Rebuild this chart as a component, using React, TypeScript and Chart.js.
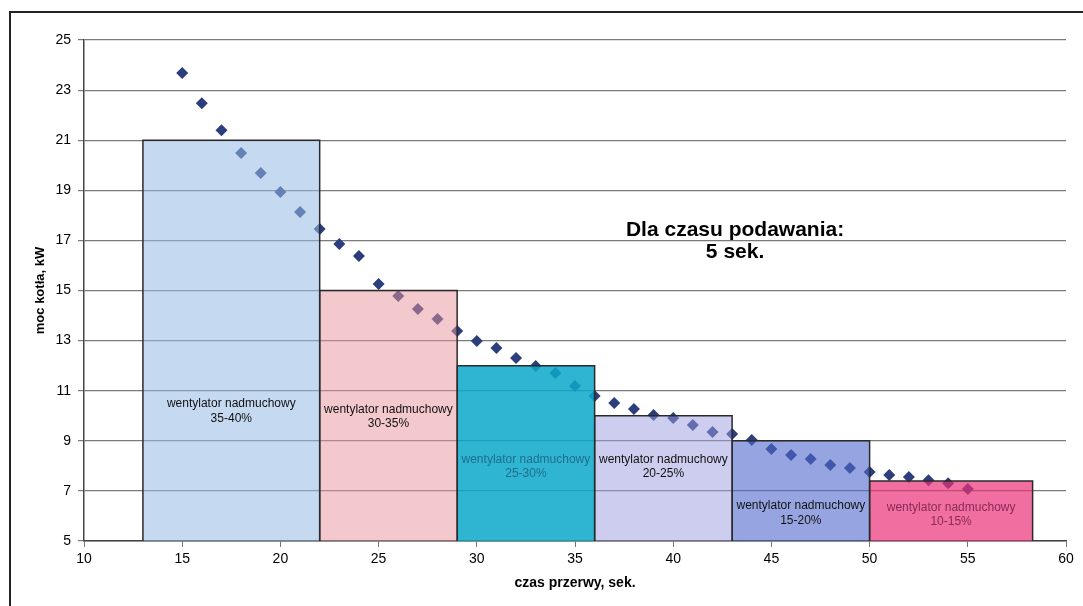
import React, { useEffect, useRef } from 'react';
import { Chart, registerables } from 'chart.js';

Chart.register(...registerables);

// ---- data ----
const pauseSeconds = [15, 16, 17, 18, 19, 20, 21, 22, 23, 24, 25, 26, 27, 28, 29, 30, 31, 32, 33, 34, 35, 36, 37, 38, 39, 40, 41, 42, 43, 44, 45, 46, 47, 48, 49, 50, 51, 52, 53, 54, 55];
const boilerPowerKW = [23.68, 22.48, 21.4, 20.49, 19.69, 18.93, 18.13, 17.46, 16.86, 16.38, 15.26, 14.78, 14.26, 13.86, 13.38, 12.98, 12.7, 12.31, 11.99, 11.71, 11.19, 10.79, 10.51, 10.27, 10.03, 9.91, 9.63, 9.35, 9.27, 9.03, 8.67, 8.43, 8.27, 8.03, 7.91, 7.75, 7.63, 7.55, 7.43, 7.31, 7.08];

const boxStart = [13, 22, 29, 36, 43, 50];
const boxEnd = [22, 29, 36, 43, 50, 58.3];
const boxTop = [21, 15, 12, 10, 9, 7.4];
const boxBase = 5;
const fanLabel = 'wentylator nadmuchowy';
const fanRanges = ['35-40%', '30-35%', '25-30%', '20-25%', '15-20%', '10-15%'];
const labelLine1Y = [10.47, 10.23, 8.23, 8.23, 6.4, 6.32];
const labelLine2Y = [9.87, 9.67, 7.67, 7.67, 5.8, 5.76];

const xTicksMin = 10;
const xTicksMax = 60;
const xTickStep = 5;
const yTicksMin = 5;
const yTicksMax = 25;
const yTickStep = 2;

const noteLines = ['Dla czasu podawania:', '5 sek.'];
const noteX = 43.15;
const noteY = [17.42, 16.54];

const xTitle = 'czas przerwy, sek.';
const yTitle = 'moc kotła, kW';

// ---- styles ----
const boxColors = [
  'rgba(150,186,230,0.55)',
  'rgba(231,147,157,0.5)',
  'rgba(10,167,202,0.85)',
  'rgba(155,155,225,0.5)',
  'rgba(80,105,205,0.6)',
  'rgba(234,48,119,0.7)',
];
const labelColors = ['#111', '#111', '#1d6f8c', '#111', '#111', '#8a2a55'];
const FONT = '"Liberation Sans", Arial, Helvetica, sans-serif';

const boxLabelsPlugin = {
  id: 'boxLabels',
  afterDatasetsDraw(chart: any) {
    const { ctx, scales } = chart;
    const x = scales.x;
    const y = scales.y;
    ctx.save();
    ctx.textAlign = 'center';
    ctx.textBaseline = 'middle';
    ctx.font = `12px ${FONT}`;
    boxStart.forEach((s, i) => {
      const cx = x.getPixelForValue((s + boxEnd[i]) / 2);
      ctx.fillStyle = labelColors[i];
      ctx.fillText(fanLabel, cx, y.getPixelForValue(labelLine1Y[i]));
      ctx.fillText(fanRanges[i], cx, y.getPixelForValue(labelLine2Y[i]));
    });
    ctx.fillStyle = '#000';
    ctx.font = `bold 21px ${FONT}`;
    noteLines.forEach((t, i) => {
      ctx.fillText(t, x.getPixelForValue(noteX), y.getPixelForValue(noteY[i]));
    });
    ctx.restore();
  },
};

export default function App() {
  const canvasRef = useRef<HTMLCanvasElement | null>(null);

  useEffect(() => {
    if (!canvasRef.current) return;
    const boxDatasets = boxStart.map((s, i) => ({
      type: 'line' as const,
      label: fanRanges[i],
      data: [
        { x: s, y: boxBase },
        { x: s, y: boxTop[i] },
        { x: boxEnd[i], y: boxTop[i] },
        { x: boxEnd[i], y: boxBase },
      ],
      fill: 'start',
      backgroundColor: boxColors[i],
      borderColor: '#2a2a2a',
      borderWidth: 1.5,
      pointRadius: 0,
      tension: 0,
      order: 0,
    }));
    const chart = new Chart(canvasRef.current, {
      type: 'scatter',
      data: {
        datasets: [
          {
            type: 'scatter',
            label: 'moc',
            data: pauseSeconds.map((v, i) => ({ x: v, y: boilerPowerKW[i] })),
            pointStyle: 'rectRot',
            pointRadius: 6,
            backgroundColor: '#2c3e7c',
            borderWidth: 0,
            order: 5,
          } as any,
          ...(boxDatasets as any[]),
        ],
      },
      options: {
        animation: false,
        responsive: false,
        layout: { padding: { left: 0, right: 17, top: 40, bottom: 0 } },
        plugins: { legend: { display: false }, tooltip: { enabled: false } },
        scales: {
          x: {
            type: 'linear',
            min: xTicksMin,
            max: xTicksMax,
            afterFit: (s: any) => { s.height = 65; },
            ticks: { stepSize: xTickStep, color: '#000', font: { family: FONT, size: 14 }, padding: 4 },
            grid: { display: true, drawOnChartArea: false, drawTicks: true, tickLength: 6, color: '#777' },
            border: { display: true, color: '#444', width: 1.5 },
            title: { display: true, text: xTitle, color: '#000', font: { family: FONT, size: 14, weight: 'bold' }, padding: { top: 0, bottom: 14 } },
          },
          y: {
            type: 'linear',
            min: yTicksMin,
            max: yTicksMax,
            afterFit: (s: any) => { s.width = 84; },
            ticks: { stepSize: yTickStep, color: '#000', font: { family: FONT, size: 14 }, padding: 7 },
            grid: { display: true, drawTicks: true, tickLength: 6, color: '#7a7a7a', lineWidth: 1.2 },
            border: { display: true, color: '#444', width: 1.5 },
            title: { display: true, text: yTitle, color: '#000', font: { family: FONT, size: 13, weight: 'bold' }, padding: { top: 33, bottom: 0 } },
          },
        },
      },
      plugins: [boxLabelsPlugin],
    } as any);
    return () => chart.destroy();
  }, []);

  return (
    <div style={{ position: 'fixed', left: 0, top: 0, width: 1083, height: 606, background: '#fff', overflow: 'hidden' }}>
      <div style={{ position: 'absolute', left: 9, top: 11, width: 1080, height: 600, borderTop: '2px solid #222', borderLeft: '2px solid #222' }} />
      <canvas ref={canvasRef} width={1083} height={606} style={{ position: 'absolute', left: 0, top: 0 }} />
    </div>
  );
}
